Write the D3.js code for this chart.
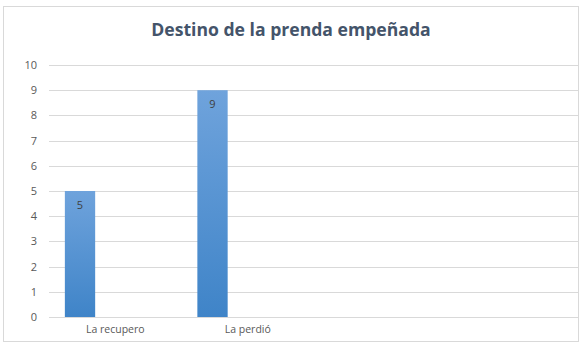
<!DOCTYPE html>
<html><head><meta charset="utf-8">
<script src="https://cdn.jsdelivr.net/npm/d3@7"></script>
<style>body{margin:0;background:#fff}svg{display:block}</style>
</head><body>
<script>
const title = "Destino de la prenda empeñada";
const categories = ["La recupero", "La perdió", "", ""];
const seriesNames = ["Serie1", "Serie2", "Serie3"];
const series1 = [5, 9, null, null];
const yTicks = [0,1,2,3,4,5,6,7,8,9,10];

const W = 582, H = 356;
const svg = d3.select("body").append("svg").attr("width", W).attr("height", H);
const defs = svg.append("defs");
const grad = defs.append("linearGradient").attr("id","barGrad").attr("x1",0).attr("y1",0).attr("x2",0).attr("y2",1);
grad.append("stop").attr("offset","0%").attr("stop-color","#6fa3dc");
grad.append("stop").attr("offset","100%").attr("stop-color","#3f84c8");

svg.append("rect").attr("x",3.5).attr("y",6.5).attr("width",575).attr("height",335)
  .attr("fill","#fff").attr("stroke","#d9d9d9");

svg.append("text").attr("x",291).attr("y",36).attr("text-anchor","middle")
  .attr("font-family","Open Sans, sans-serif").attr("font-weight",700).attr("font-size",17.6)
  .attr("fill","#44546a").text(title);

const m = {left:49, right:579, top:65, bottom:317};
const idx = categories.map((d,i)=>i);
const x0 = d3.scaleBand().domain(idx).range([m.left, m.right]).padding(0);
const x1 = d3.scaleBand().domain(seriesNames).range([0, x0.bandwidth()]).paddingInner(0.14).paddingOuter(0.45);
const y = d3.scaleLinear().domain([0,10]).range([m.bottom, m.top]);

const grid = svg.append("g");
grid.selectAll("line").data(yTicks).join("line")
  .attr("x1",m.left).attr("x2",m.right)
  .attr("y1",d=>Math.round(y(d))+0.5).attr("y2",d=>Math.round(y(d))+0.5)
  .attr("stroke","#d9d9d9").attr("stroke-width",1);

const yAxis = d3.axisLeft(y).tickValues(yTicks).tickSize(0).tickPadding(12);
const ya = svg.append("g").attr("transform",`translate(${m.left},0)`).call(yAxis);
ya.select(".domain").remove();
ya.selectAll("text").attr("font-family","Open Sans, sans-serif").attr("font-size",11).attr("fill","#595959");

const xAxis = d3.axisBottom(x0).tickSize(0).tickPadding(9).tickFormat(i=>categories[i]);
const xa = svg.append("g").attr("transform",`translate(0,${m.bottom})`).call(xAxis);
xa.select(".domain").remove();
xa.selectAll("text").attr("font-family","Open Sans, sans-serif").attr("font-size",10.5).attr("fill","#595959");

const bars = svg.append("g");
const data = series1.map((v,i)=>({i,v})).filter(d=>d.v!=null);
bars.selectAll("rect").data(data).join("rect")
  .attr("x",d=>x0(d.i)+x1("Serie1"))
  .attr("width",x1.bandwidth())
  .attr("y",d=>y(d.v)).attr("height",d=>y(0)-y(d.v))
  .attr("fill","url(#barGrad)");
bars.selectAll("text").data(data).join("text")
  .attr("x",d=>x0(d.i)+x1("Serie1")+x1.bandwidth()/2)
  .attr("y",d=>y(d.v)+18).attr("text-anchor","middle")
  .attr("font-family","Open Sans, sans-serif").attr("font-size",11).attr("fill","#404040")
  .text(d=>d.v);
</script>
</body></html>
